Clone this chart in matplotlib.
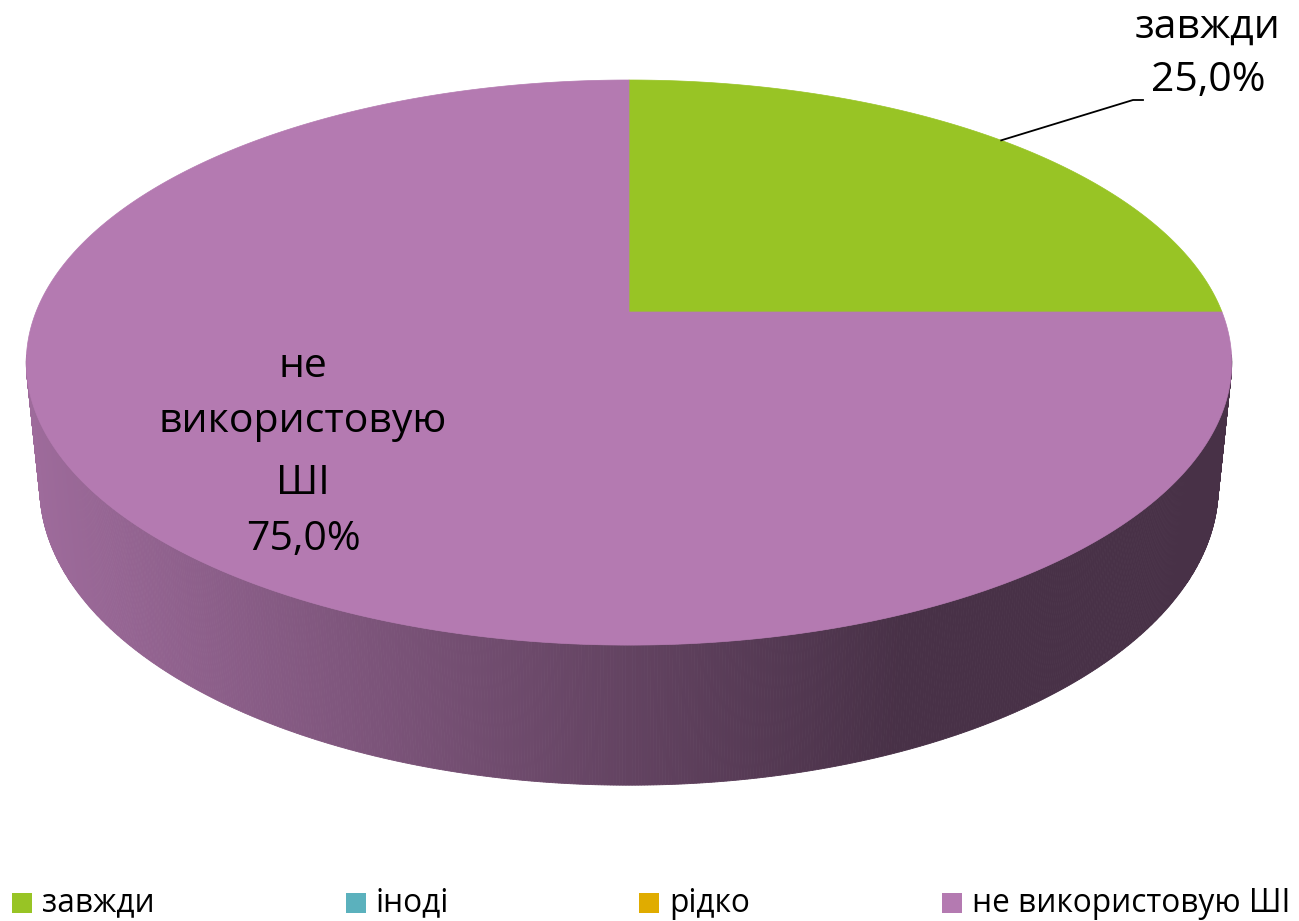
import numpy as np
import matplotlib
matplotlib.use('Agg')
import matplotlib.pyplot as plt
from matplotlib.patches import Polygon, Rectangle
from matplotlib.colors import to_rgb

# ---- data ----
categories = ['завжди', 'іноді', 'рідко', 'не використовую ШІ']
values = [25.0, 0.0, 0.0, 75.0]          # percent
colors = ['#98C425', '#5BB1BD', '#E0AC00', '#B47AB1']
label_lines = [['завжди'], ['іноді'], ['рідко'], ['не', 'використовую', 'ШІ']]

FONT = ['Open Sans', 'DejaVu Sans']
plt.rcParams['font.family'] = FONT

W, H = 1299, 921
fig = plt.figure(figsize=(W / 100, H / 100), dpi=100)
ax = fig.add_axes([0, 0, 1, 1])
ax.set_xlim(0, W)
ax.set_ylim(H, 0)
ax.axis('off')

# ---- 3D perspective projection of the pie ----
CX, CY = 629.0, 312.0
ELEV = np.arcsin(273.5 / 593.0)
DIST = 4.96
FOC = 593.0 * DIST
THICK = 0.2386
SE, CE = np.sin(ELEV), np.cos(ELEV)


def proj(u, v, h):
    z = DIST - v * CE - h * SE
    sx = CX + FOC * u / z
    sy = CY + FOC * (v * SE - h * CE) / z
    return sx, sy


def rim(phi, h):
    return proj(np.sin(phi), -np.cos(phi), h)


total = sum(values)
fracs = [v / total for v in values]
starts = np.cumsum([0] + fracs[:-1]) * 2 * np.pi
ends = np.cumsum(fracs) * 2 * np.pi


def shade(col, x):
    t = np.clip((x - 28.0) / (900.0 - 28.0), 0, 1)
    f = 0.88 + (0.40 - 0.88) * t
    r, g, b = to_rgb(col)
    return (r * f, g * f, b * f)


# side walls (front-facing part)
for s, e, c in zip(starts, ends, colors):
    if e - s <= 0:
        continue
    n = max(int((e - s) / (2 * np.pi) * 1440), 2)
    phis = np.linspace(s, e, n + 1)
    for p0, p1 in zip(phis[:-1], phis[1:]):
        pm = 0.5 * (p0 + p1)
        if np.cos(pm) > -0.15:
            continue
        x0t, y0t = rim(p0, 0)
        x1t, y1t = rim(p1, 0)
        x1b, y1b = rim(p1, -THICK)
        x0b, y0b = rim(p0, -THICK)
        col = shade(c, 0.25 * (x0t + x1t + x0b + x1b))
        ax.add_patch(Polygon([(x0t, y0t), (x1t, y1t), (x1b, y1b), (x0b, y0b)],
                             closed=True, facecolor=col, edgecolor=col,
                             linewidth=0.6, zorder=1))

# top faces
for s, e, c in zip(starts, ends, colors):
    if e - s <= 0:
        continue
    phis = np.linspace(s, e, max(int((e - s) * 200), 4))
    xs, ys = rim(phis, 0)
    pts = [proj(0, 0, 0)] + list(zip(xs, ys))
    ax.add_patch(Polygon(pts, closed=True, facecolor=c, edgecolor=c,
                         linewidth=0.5, zorder=2))

# ---- data labels ----
def pct(v):
    return f"{v:.1f}%".replace('.', ',')

LFS = 29.5
# first slice: outside label with leader line
mid0 = 0.5 * (starts[0] + ends[0])
lx, ly = rim(mid0, 0)
ax.plot([lx, 1133, 1143], [ly, 100, 100], color='black', lw=1.3, zorder=5)
ax.text(1208, 27, label_lines[0][0], ha='center', va='center', fontsize=LFS, zorder=6)
ax.text(1208, 81, pct(values[0]), ha='center', va='center', fontsize=LFS, zorder=6)

# last slice: inside label
inner = label_lines[3] + [pct(values[3])]
for txt, yy in zip(inner, [367, 422, 484, 540]):
    ax.text(303, yy, txt, ha='center', va='center', fontsize=LFS, zorder=6)

# ---- legend ----
leg_sq_x = [12, 346, 639, 942]
LEGFS = 22.8
for name, c, x in zip(categories, colors, leg_sq_x):
    ax.add_patch(Rectangle((x, 893), 20, 20, facecolor=c, edgecolor='none', zorder=6))
    ax.text(x + 30, 903, name, ha='left', va='center', fontsize=LEGFS, zorder=6)

fig.savefig('out.png', dpi=100)
